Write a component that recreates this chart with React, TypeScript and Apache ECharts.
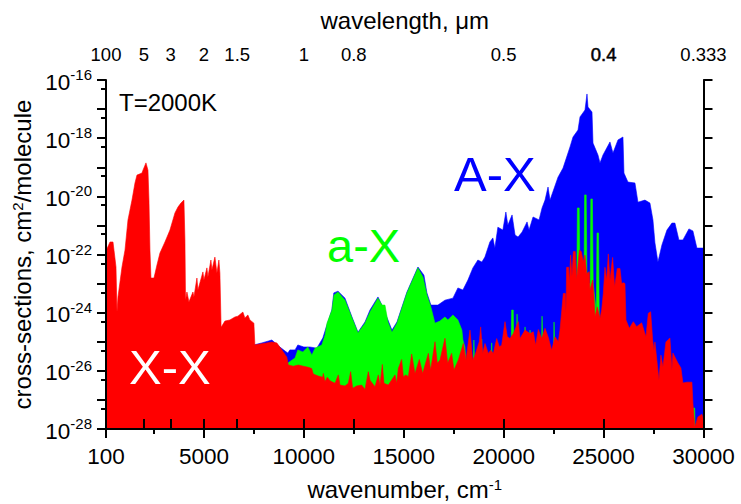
import { useEffect, useRef } from "react";
import * as echarts from "echarts";

// [wavenumber in cm-1, log10 of cross-section]
const blueBand: [number, number][] = [
  [7500, -25.11], [7900, -25.04], [8400, -24.94], [8800, -25.18], [9060, -25.32], [9200, -25.39], [9300, -25.28],
  [9560, -25.28], [9700, -25.11], [10000, -25.18], [10300, -25.18], [10650, -25.22], [10950, -24.87], [11150, -24.43],
  [11400, -23.91], [11500, -23.32], [11710, -23.26], [12060, -23.5], [12410, -24.15], [12710, -24.67], [13060, -24.32],
  [13310, -23.91], [13710, -23.46], [13960, -23.81], [14210, -24.25], [14410, -24.6], [14660, -24.32], [15160, -23.29],
  [15710, -22.43], [16010, -22.71], [16160, -23.32], [16360, -23.74], [16710, -23.74], [17060, -23.57], [17460, -23.5],
  [17710, -23.15], [17960, -23.22], [18210, -22.88], [18460, -22.46], [18710, -22.19], [18910, -22.26], [19060, -22.09],
  [19310, -21.57], [19460, -21.43], [19560, -21.78], [19710, -21.06], [19960, -21.16], [20110, -20.54], [20210, -20.99],
  [20420, -20.64], [20570, -21.33], [20720, -21.4], [20920, -21.23], [21170, -20.88], [21270, -21.16], [21470, -20.71],
  [21770, -20.81], [21920, -20.4], [22070, -20.13], [22220, -19.68], [22320, -20.13], [22720, -19.34], [22970, -19.03],
  [23320, -18.3], [23470, -17.96], [23720, -17.72], [23820, -17.27], [24070, -17.03], [24170, -16.48], [24220, -16.93],
  [24420, -17.1], [24470, -18.17], [24720, -18.58], [24820, -18.85], [24970, -18.58], [25320, -18.13], [25470, -18.51],
  [25720, -18.06], [25970, -17.96], [26020, -19.2], [26220, -19.51], [26570, -19.54], [26720, -20.2], [27070, -20.13],
  [27320, -20.23], [27470, -20.81], [27570, -21.6], [27720, -22.26], [27920, -21.67], [28170, -21.16], [28420, -20.92],
  [28570, -20.92], [28770, -21.5], [28970, -21.5], [29270, -21.12], [29470, -21.19], [29670, -21.78], [30000, -21.78],
];

const greenBand: [number, number][] = [
  [9200, -25.73], [9560, -25.56], [9700, -25.28], [9950, -25.35], [10200, -25.18], [10400, -25.46], [10560, -25.22],
  [10900, -25.11], [11060, -24.77], [11160, -24.36], [11410, -23.91], [11510, -23.39], [11710, -23.29], [12060, -23.57],
  [12410, -24.18], [12710, -24.7], [13060, -24.36], [13310, -23.98], [13710, -23.5], [13910, -23.74], [14060, -23.74],
  [14210, -24.32], [14410, -24.67], [14660, -24.36], [15160, -23.32], [15710, -22.46], [15960, -22.77], [16160, -23.39],
  [16360, -23.81], [16560, -24.36], [16810, -24.29], [17060, -24.15], [17210, -24.25], [17460, -24.08], [17710, -24.25],
  [17910, -24.6], [17960, -24.94], [18060, -25.18], [18210, -26.5], [18460, -26.5], [18510, -24.94], [18570, -26.5],
  [18850, -26.5], [18900, -24.91], [18960, -26.5], [19350, -26.5], [19400, -25.04], [19460, -26.5], [20360, -26],
  [20400, -23.91], [20480, -23.91], [20520, -26], [20630, -26], [20670, -24.05], [20730, -26], [21030, -26],
  [21070, -24.49], [21120, -26], [21290, -26], [21320, -24.6], [21370, -26], [21880, -26], [21920, -24.12],
  [21990, -26], [22480, -26], [22520, -24.32], [22590, -26], [23660, -23], [23690, -20.4], [23780, -20.4],
  [23820, -23], [24020, -23], [24050, -19.95], [24130, -19.95], [24170, -23], [24330, -23], [24360, -20.09],
  [24440, -20.09], [24480, -23], [24640, -24], [24670, -21.26], [24750, -21.26], [24790, -25], [29480, -27.8],
  [29500, -27.28], [29560, -27.28], [29580, -28], [30000, -28],
];

const redBand: [number, number][] = [
  [100, -21.85], [150, -21.8], [300, -21.57], [450, -21.57], [500, -21.85], [600, -22.43], [650, -23.98], [700, -23.46],
  [900, -22.43], [1050, -21.85], [1200, -20.81], [1400, -20.13], [1550, -19.54], [1650, -19.27], [1900, -19.2],
  [1950, -19.1], [2100, -18.85], [2200, -19.1], [2250, -20.13], [2300, -21.85], [2350, -22.81], [2500, -22.81],
  [2650, -22.36], [2800, -21.95], [3050, -21.57], [3300, -21.16], [3550, -20.57], [3700, -20.37], [3850, -20.23],
  [4000, -20.13], [4050, -21.5], [4080, -23.57], [4150, -23.29], [4250, -23.63], [4450, -23.29], [4500, -23.46],
  [4650, -22.81], [4700, -23.22], [4950, -22.6], [5000, -22.88], [5150, -22.46], [5200, -22.77], [5350, -22.19],
  [5400, -22.53], [5550, -22.09], [5650, -22.64], [5750, -22.19], [5800, -22.64], [5860, -24.49], [5900, -24.46],
  [6050, -24.29], [6300, -24.25], [6550, -24.15], [6700, -24.12], [6950, -23.98], [7050, -24.18], [7200, -24.08],
  [7300, -24.25], [7500, -24.36], [7550, -25.11], [7800, -25.08], [8150, -25.04], [8400, -25.01], [8650, -25.04],
  [8900, -25.28], [9150, -25.53], [9224, -25.8], [9474, -25.84], [9724, -25.8], [9975, -25.84], [10225, -25.88],
  [10392, -25.92], [10475, -26.11], [10725, -26.18], [10942, -26.22], [10975, -26.09], [11059, -26.37], [11176, -26.22],
  [11309, -26.34], [11559, -26.43], [11726, -26.14], [11809, -26.49], [12060, -26.52], [12226, -26.43], [12343, -26.03],
  [12443, -26.6], [12643, -26.52], [12894, -26.49], [13060, -26.64], [13227, -26.03], [13311, -26.32], [13561, -26.55],
  [13728, -26.14], [13811, -26.49], [13928, -25.78], [14011, -26.43], [14228, -26.49], [14562, -26.14], [14645, -26.43],
  [14729, -25.92], [14895, -25.61], [14979, -26.2], [15112, -26.14], [15229, -26.2], [15396, -25.42], [15562, -26.09],
  [15780, -25.61], [15946, -26.09], [16230, -25.4], [16346, -25.97], [16563, -25], [16680, -25.74], [16813, -25.63],
  [17064, -24.88], [17197, -25.74], [17397, -25.4], [17514, -25.97], [17731, -25.63], [17981, -25.06], [18114, -25.63],
  [18315, -24.6], [18448, -25.63], [18565, -25.46], [18782, -25], [18849, -24.49], [18949, -25.4], [19066, -25.06],
  [19232, -25.4], [19349, -25.29], [19483, -25.4], [19650, -24.89], [19783, -25.17], [19900, -25.12], [20066, -24.31],
  [20183, -24.83], [20317, -24.89], [20483, -24.72], [20733, -24.31], [20817, -24.89], [21067, -24.6], [21317, -24.72],
  [21484, -24.66], [21601, -25.12], [21734, -24.58], [21901, -24.89], [22068, -24.54], [22235, -24.85], [22402, -25.29],
  [22568, -24.83], [22735, -25], [22818, -24.6], [22985, -23.34], [23085, -23.34], [23118, -24.02], [23151, -22.44],
  [23251, -22.44], [23285, -23], [23352, -22.02], [23418, -22.76], [23485, -21.9], [23585, -21.9], [23652, -22.88],
  [23785, -21.85], [23885, -21.9], [23985, -22.25], [24069, -22.02], [24152, -22.65], [24286, -22.59], [24319, -23.22],
  [24452, -22.88], [24519, -23.45], [24569, -24.14], [24686, -23.8], [24819, -24.2], [24903, -23.91], [24986, -23.34],
  [25070, -22.44], [25153, -22.88], [25236, -21.98], [25320, -22.88], [25453, -22.1], [25553, -23.11], [25687, -22.48],
  [25820, -22.48], [25903, -23], [25987, -22.97], [26070, -23], [26120, -24.25], [26287, -24.54], [26487, -24.31],
  [26654, -24.48], [26904, -24.35], [27121, -24.83], [27238, -24.02], [27355, -23.97], [27455, -24.94], [27520, -25.28],
  [27570, -25.01], [27770, -26.32], [27870, -25.46], [27970, -25.87], [28120, -25.01], [28320, -24.87], [28420, -25.97],
  [28470, -25.39], [28720, -25.73], [28870, -25.9], [28970, -26.42], [29170, -26.39], [29420, -26.39], [29470, -27.11],
  [29570, -27.93], [29720, -27.59], [29920, -27.49], [30000, -27.7],
];

const bottomTicks = [100, 5000, 10000, 15000, 20000, 25000, 30000];
const bottomMinorTicks = [2500, 7500, 12500, 17500, 22500, 27500];
const topTicks = [100, 2000, 3333, 5000, 6667, 10000, 12500, 20000, 25000, 30000];
const topLabels = ["100", "5", "3", "2", "1.5", "1", "0.8", "0.5", "0.4", "0.333"];
const decades = [-28, -27, -26, -25, -24, -23, -22, -21, -20, -19, -18, -17, -16];

const decadeValues = decades.map((n) => Number(`1e${n}`));
const halfDecadeValues = decades.slice(0, -1).map((n) => Number(`5e${n}`));

const FONT = "Liberation Sans";
const toSeries = (band: [number, number][]) => band.map(([wn, lg]) => [wn, Math.pow(10, lg)]);

const xBase = { type: "value", min: 100, max: 30000, splitLine: { show: false }, z: 10 };
const yBase = { type: "log", logBase: 10, min: 1e-28, max: 1e-16, splitLine: { show: false }, minorTick: { show: false }, z: 10 };
const axisLine = { show: true, lineStyle: { color: "#000", width: 2 } };
const tick = (length: number, customValues: number[]) => ({
  show: true,
  length,
  customValues,
  lineStyle: { color: "#000", width: 2 },
});

// raised small text, the short line box sits at the top of the tall one
const sup = { fontSize: 15, fontFamily: FONT, color: "#000", lineHeight: 15, verticalAlign: "top" };

const band = (name: string, color: string, data: [number, number][], z: number) => ({
  name,
  type: "line",
  z,
  data: toSeries(data),
  showSymbol: false,
  symbol: "none",
  silent: true,
  lineStyle: { color, width: 0.6 },
  itemStyle: { color },
  areaStyle: { color, opacity: 1, origin: 1e-28 },
});

const App = () => {
  const chartRef = useRef<HTMLDivElement>(null);

  useEffect(() => {
    if (!chartRef.current) return;

    const chart = echarts.init(chartRef.current, undefined, { renderer: "svg" });

    chart.setOption({
      animation: false,
      backgroundColor: "#fff",
      textStyle: { fontFamily: FONT },
      grid: { left: 106, top: 80, width: 597.5, height: 349, outerBoundsMode: "none" },
      xAxis: [
        {
          ...xBase,
          position: "bottom",
          axisLine,
          axisTick: tick(9, bottomTicks),
          axisLabel: {
            customValues: bottomTicks,
            fontSize: 22.5,
            color: "#000",
            margin: 16,
            fontFamily: FONT,
            formatter: (v: number) => String(v),
          },
          name: "{t|wavenumber, cm}{s|-1}",
          nameLocation: "middle",
          nameGap: 48,
          nameTextStyle: {
            rich: {
              t: { fontSize: 24, fontFamily: FONT, color: "#000", lineHeight: 25 },
              s: sup,
            },
          },
        },
        {
          ...xBase,
          position: "bottom",
          axisLine: { show: false },
          axisTick: tick(5, bottomMinorTicks),
          axisLabel: { show: false },
        },
        {
          ...xBase,
          position: "top",
          axisLine,
          axisTick: tick(10, topTicks),
          axisLabel: {
            customValues: topTicks,
            fontSize: 18.5,
            color: "#000",
            margin: 16,
            fontFamily: FONT,
            formatter: (v: number) => {
              const label = topLabels[topTicks.indexOf(v)];
              return label === "0.4" ? `{d|${label}}` : label;
            },
            rich: {
              d: { fontSize: 18.5, fontFamily: FONT, color: "#000", textBorderColor: "#000", textBorderWidth: 0.5 },
            },
          },
          name: "wavelength, \u03bcm",
          nameLocation: "middle",
          nameGap: 48,
          nameTextStyle: { fontSize: 24, color: "#000", fontFamily: FONT },
        },
      ],
      yAxis: [
        {
          ...yBase,
          position: "left",
          axisLine,
          axisTick: tick(9, decadeValues),
          axisLabel: {
            customValues: decades.filter((n) => n % 2 === 0).map((n) => Number(`1e${n}`)),
            margin: 14,
            formatter: (v: number) => `{b|10}{s|${Math.round(Math.log10(v))}}`,
            rich: {
              b: { fontSize: 22.5, fontFamily: FONT, color: "#000", lineHeight: 26, padding: [4, 0, 0, 0] },
              s: sup,
            },
          },
          name: "{t|cross-sections, cm}{s|2}{t|/molecule}",
          nameLocation: "middle",
          nameGap: 66,
          nameRotate: 90,
          nameTextStyle: {
            rich: {
              t: { fontSize: 24, fontFamily: FONT, color: "#000", lineHeight: 25 },
              s: sup,
            },
          },
        },
        {
          ...yBase,
          position: "left",
          axisLine: { show: false },
          axisTick: tick(5, halfDecadeValues),
          axisLabel: { show: false },
        },
        {
          ...yBase,
          position: "right",
          axisLine,
          axisTick: tick(9, decadeValues),
          axisLabel: { show: false },
        },
      ],
      series: [
        band("A-X", "#0000ff", blueBand, 2),
        band("a-X", "#00ff00", greenBand, 3),
        band("X-X", "#ff0000", redBand, 4),
      ],
      graphic: [
        { type: "text", z: 20, left: 119, top: 90, style: { text: "T=2000K", fontSize: 24, fontFamily: FONT, fill: "#000" } },
        { type: "text", z: 20, left: 454, top: 149, style: { text: "A-X", fontSize: 49, fontFamily: FONT, fill: "#0000ff" } },
        { type: "text", z: 20, left: 327, top: 222, style: { text: "a-X", fontSize: 47, fontFamily: FONT, fill: "#00ff00" } },
        { type: "text", z: 20, left: 129, top: 342, style: { text: "X-X", fontSize: 49, fontFamily: FONT, fill: "#ffffff" } },
      ],
    });

    return () => {
      chart.dispose();
    };
  }, []);

  return <div ref={chartRef} style={{ position: "absolute", left: 0, top: 0, width: 741, height: 504 }} />;
};

export default App;
